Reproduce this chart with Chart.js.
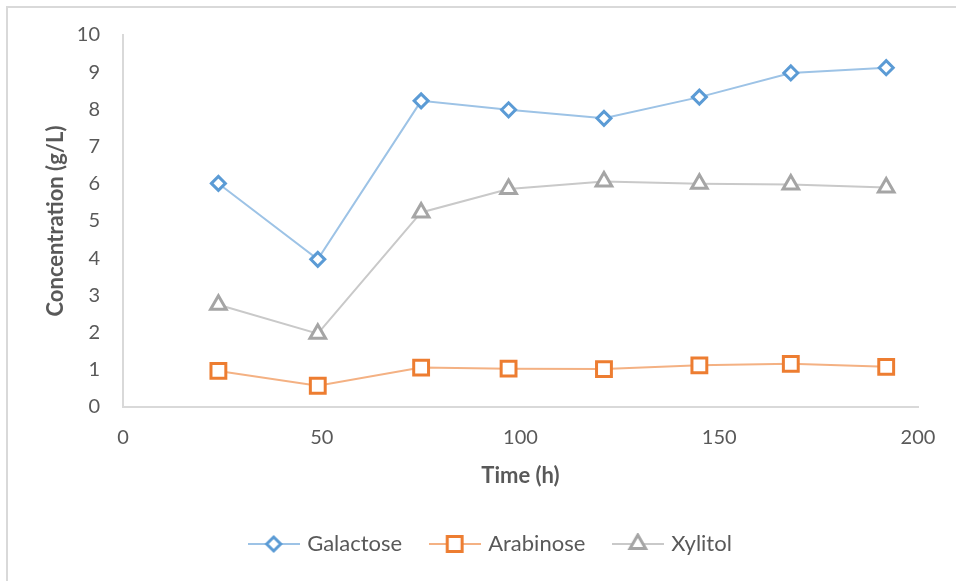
<!DOCTYPE html>
<html>
<head>
<meta charset="utf-8">
<script src="https://cdn.jsdelivr.net/npm/chart.js@4.4.0/dist/chart.umd.min.js"></script>
<style>
  html, body { margin: 0; padding: 0; background: #fff; }
  #wrap { position: relative; width: 956px; height: 581px; }
  #frame { position: absolute; left: 6px; top: 6px; right: -4px; bottom: -4px;
           border-top: 2px solid #d9d9d9; border-left: 2px solid #d9d9d9; }
  canvas { position: absolute; left: 0; top: 0; }
</style>
</head>
<body>
<div id="wrap">
  <div id="frame"></div>
  <canvas id="grafico" width="956" height="581"></canvas>
</div>
<script>
// datos
const tiempo = [24, 49, 75, 97, 121, 145, 168, 192];
const galactosa = [6.01, 3.97, 8.23, 7.99, 7.76, 8.33, 8.98, 9.12];
const arabinosa = [0.97, 0.57, 1.06, 1.03, 1.02, 1.12, 1.16, 1.08];
const xilitol = [2.75, 1.97, 5.23, 5.86, 6.06, 6.00, 5.98, 5.90];
const nombres = ['Galactose', 'Arabinose', 'Xylitol'];
const ticksX = [0, 50, 100, 150, 200];
const ticksY = [0, 1, 2, 3, 4, 5, 6, 7, 8, 9, 10];

const gris = '#595959';
const fuente = 'Lato';

function puntos(valores) {
  return tiempo.map((t, i) => ({ x: t, y: valores[i] }));
}

// icono de la leyenda: linea con marcador en medio
function iconoLeyenda(colorLinea, colorMarca, estilo, radio) {
  const c = document.createElement('canvas');
  c.width = 52;
  c.height = 22;
  const g = c.getContext('2d');
  g.strokeStyle = colorLinea;
  g.lineWidth = 2;
  g.beginPath();
  g.moveTo(0, 11);
  g.lineTo(52, 11);
  g.stroke();
  g.fillStyle = '#fff';
  g.strokeStyle = colorMarca;
  g.lineWidth = 3;
  Chart.helpers.drawPoint(g, { pointStyle: estilo, radius: radio, borderWidth: 3, rotation: 0 }, 26, 11);
  return c;
}

const series = [
  { datos: galactosa, linea: '#9dc3e6', marca: '#5b9bd5', estilo: 'rectRot', radio: 7 },
  { datos: arabinosa, linea: '#f4b183', marca: '#ed7d31', estilo: 'rect', radio: 10.5 },
  { datos: xilitol, linea: '#c9c9c9', marca: '#a5a5a5', estilo: 'triangle', radio: 9 }
];

const datasets = series.map((s, i) => ({
  label: nombres[i],
  data: puntos(s.datos),
  borderColor: s.linea,
  borderWidth: 2,
  pointStyle: s.estilo,
  pointRadius: s.radio,
  pointHoverRadius: s.radio,
  pointBorderColor: s.marca,
  pointBackgroundColor: '#fff',
  pointBorderWidth: 3,
  tension: 0,
  icono: iconoLeyenda(s.linea, s.marca, s.estilo, s.radio)
}));

// la leyenda del original esta un poco a la izquierda del centro del area
const moverLeyenda = {
  id: 'moverLeyenda',
  afterLayout: (ch) => {
    ch.legend.left -= 29;
    ch.legend.right -= 29;
  }
};

const ctx = document.getElementById('grafico').getContext('2d');

const chart = new Chart(ctx, {
  type: 'line',
  data: { datasets: datasets },
  plugins: [moverLeyenda],
  options: {
    responsive: false,
    animation: false,
    layout: { padding: { left: 0, right: 38, top: 35, bottom: 16 } },
    plugins: {
      tooltip: { enabled: false },
      legend: {
        position: 'bottom',
        fullSize: false,
        labels: {
          usePointStyle: true,
          pointStyleWidth: 45,
          padding: 30,
          color: gris,
          font: { family: fuente, size: 22 },
          generateLabels: (ch) => ch.data.datasets.map((d, i) => ({
            text: d.label,
            pointStyle: d.icono,
            fontColor: gris,
            lineWidth: 0,
            strokeStyle: 'transparent',
            fillStyle: 'transparent',
            datasetIndex: i
          }))
        }
      }
    },
    scales: {
      x: {
        type: 'linear',
        min: 0,
        max: 200,
        afterBuildTicks: (scale) => { scale.ticks = ticksX.map(v => ({ value: v })); },
        afterFit: (scale) => { scale.height = 96; },
        grid: { display: false, drawTicks: false },
        border: { color: '#d9d9d9', width: 2 },
        ticks: { padding: 19, color: gris, font: { family: fuente, size: 20 }, maxRotation: 0 },
        title: {
          display: true,
          text: 'Time (h)',
          color: gris,
          font: { family: fuente, size: 22, weight: 'bold' },
          padding: { top: 0, bottom: 14 }
        }
      },
      y: {
        min: 0,
        max: 10,
        afterBuildTicks: (scale) => { scale.ticks = ticksY.map(v => ({ value: v })); },
        afterFit: (scale) => { scale.width = 123; },
        grid: { display: false, drawTicks: false },
        border: { color: '#d9d9d9', width: 2 },
        ticks: { padding: 23, color: gris, font: { family: fuente, size: 20 } },
        title: {
          display: true,
          text: 'Concentration (g/L)',
          color: gris,
          font: { family: fuente, size: 22, weight: 'bold' },
          padding: { top: 43, bottom: 0 }
        }
      }
    }
  }
});
</script>
</body>
</html>
